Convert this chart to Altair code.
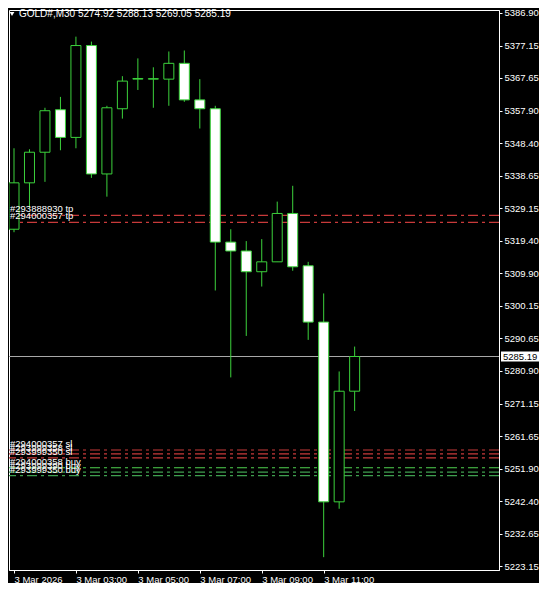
import json
import altair as alt
import pandas as pd

# ---- data ----
bar_index = list(range(23))
opens = [5322.87, 5336.61, 5345.67, 5358.25, 5350.06, 5377.26, 5339.24, 5358.54,
         5367.31, 5367.31, 5367.31, 5371.99, 5361.17, 5358.54, 5319.06, 5316.43,
         5310.29, 5313.22, 5327.54, 5312.05, 5295.38, 5242.16, 5274.92]
highs = [5346.84, 5346.55, 5358.83, 5362.05, 5379.89, 5378.43, 5359.42, 5368.19,
         5373.45, 5370.82, 5375.50, 5375.79, 5367.31, 5359.42, 5322.87, 5319.36,
         5319.94, 5331.05, 5335.73, 5313.22, 5303.86, 5280.76, 5288.13]
lows = [5321.99, 5329.30, 5336.90, 5346.26, 5346.84, 5338.07, 5332.52, 5355.62,
        5364.10, 5358.83, 5359.42, 5360.59, 5352.69, 5304.74, 5279.00, 5291.28,
        5305.90, 5313.22, 5310.58, 5290.11, 5225.78, 5240.11, 5269.05]
closes = [5336.61, 5345.67, 5357.96, 5350.06, 5377.26, 5339.24, 5358.83, 5366.73,
          5367.50, 5367.45, 5371.99, 5361.17, 5358.54, 5319.06, 5316.43, 5310.29,
          5313.22, 5327.54, 5311.75, 5295.38, 5242.16, 5274.91, 5285.19]

tick_idx = [0, 4, 8, 12, 16, 20]
tick_text = ["3 Mar 2026", "3 Mar 03:00", "3 Mar 05:00", "3 Mar 07:00",
             "3 Mar 09:00", "3 Mar 11:00"]
price_ticks = [5386.90, 5377.15, 5367.65, 5357.90, 5348.40, 5338.65, 5329.15,
               5319.40, 5309.90, 5300.15, 5290.65, 5280.90, 5271.15, 5261.65,
               5251.90, 5242.40, 5232.65, 5223.15]

level_prices = [5326.96, 5324.91, 5257.51, 5256.34, 5255.17, 5252.25, 5250.93, 5249.91]
level_labels = ["#293888930 tp", "#294000357 tp", "#294000357 sl", "#293999358 sl",
                "#293999350 sl", "#294000358 buy", "#293999390 buy", "#293999350 buy"]
level_kind = ["tp", "tp", "sl", "sl", "sl", "buy1", "buy", "buy"]

last_price = 5285.19
title_text = "GOLD#,M30  5274.92 5288.13 5269.05 5285.19"

# ---- layout ----
W, H = 490, 560
Y_DOMAIN = [5221.98, 5387.78]
X_DOMAIN = [0, 31.0]
GREEN = "#3cd23c"
FONT = "Liberation Sans"

candles = pd.DataFrame({"i": bar_index, "open": opens, "high": highs,
                        "low": lows, "close": closes})
candles["dir"] = ["up" if c > o else "down" for o, c in zip(opens, closes)]

levels = pd.DataFrame({"price": level_prices, "label": level_labels, "kind": level_kind})
last_df = pd.DataFrame({"price": [last_price], "top": [last_price + 1.5],
                        "bot": [last_price - 1.5], "txt": [f"{last_price:.2f}"]})
title_df = pd.DataFrame({"t": [title_text]})

xs = alt.Scale(domain=X_DOMAIN, nice=False, zero=False)
ys = alt.Scale(domain=Y_DOMAIN, nice=False, zero=False)

label_expr = json.dumps(tick_text) + "[indexof(" + json.dumps(tick_idx) + ", datum.value)]"

x_axis = alt.Axis(values=tick_idx, labelExpr=label_expr, labelAlign="left",
                  labelPadding=1, tickSize=3, labelColor="#ffffff", tickColor="#ffffff",
                  domainColor="#ffffff", grid=False, labelFontSize=9.5, labelFont=FONT,
                  labelFlush=False, labelOverlap=False, title=None)
y_axis = alt.Axis(orient="right", values=price_ticks, format=".2f", tickSize=3,
                  labelPadding=2, labelColor="#ffffff", tickColor="#ffffff",
                  domainColor="#ffffff", grid=False, labelFontSize=9.5, labelFont=FONT,
                  labelOverlap=False, labelBaseline="middle", labelBound=False,
                  title=None)


def Y(field):
    return alt.Y(field, scale=ys, axis=y_axis)


def X(field):
    return alt.X(field, scale=xs, axis=x_axis)


level_color = alt.Color("kind:N", scale=alt.Scale(domain=["tp", "sl", "buy1", "buy"],
                        range=["#c83a3a", "#c83a3a", "#4fd14f", "#3f9f4f"]), legend=None)

level_rules = alt.Chart(levels).mark_rule(strokeDash=[10, 4, 3, 4], strokeWidth=1.2).encode(
    y=Y("price:Q"),
    color=level_color,
)

last_rule = alt.Chart(last_df).mark_rule(color="#a8a8a8", strokeWidth=1).encode(
    y=Y("price:Q"),
)

wicks = alt.Chart(candles).mark_rule(color=GREEN, strokeWidth=1, clip=True).encode(
    x=X("i:Q"),
    y=Y("low:Q"),
    y2="high:Q",
)

bodies = alt.Chart(candles).mark_bar(size=10, stroke=GREEN, strokeWidth=1, clip=True).encode(
    x=X("i:Q"),
    y=Y("open:Q"),
    y2="close:Q",
    fill=alt.Fill("dir:N", scale=alt.Scale(domain=["up", "down"],
                                            range=["#000000", "#ffffff"]), legend=None),
)

level_text = alt.Chart(levels).mark_text(align="left", baseline="bottom", dy=-1,
                                         font=FONT, fontSize=9.5, color="#ffffff").encode(
    x=alt.value(1),
    y=Y("price:Q"),
    text="label:N",
)

price_box = alt.Chart(last_df).mark_rect(color="#ffffff").encode(
    x=alt.value(W + 2), x2=alt.value(W + 40),
    y=Y("top:Q"), y2="bot:Q",
)
price_txt = alt.Chart(last_df).mark_text(align="left", baseline="middle", font=FONT,
                                         fontSize=9.5, color="#000000").encode(
    x=alt.value(W + 4),
    y=Y("price:Q"),
    text="txt:N",
)

title_tri = alt.Chart(title_df).mark_point(shape="triangle-down", filled=True,
                                           color="#ffffff", size=22, opacity=1).encode(
    x=alt.value(3), y=alt.value(4),
)
title_txt = alt.Chart(title_df).mark_text(align="left", baseline="middle", font=FONT,
                                          fontSize=10, color="#ffffff").encode(
    x=alt.value(10), y=alt.value(4), text="t:N",
)

chart = alt.layer(
    level_rules, last_rule, wicks, bodies, level_text, price_box, price_txt,
    title_tri, title_txt,
).properties(
    width=W, height=H,
    autosize=alt.AutoSizeParams(type="none"),
    padding={"left": 1, "top": 2, "right": 40, "bottom": 13},
).configure(
    background="#000000",
).configure_axis(
    labelOverlap=False,
).configure_view(
    stroke="#ffffff", strokeWidth=1, fill="#000000",
)

chart.save("out.html", embed_options={"renderer": "svg", "actions": False})
